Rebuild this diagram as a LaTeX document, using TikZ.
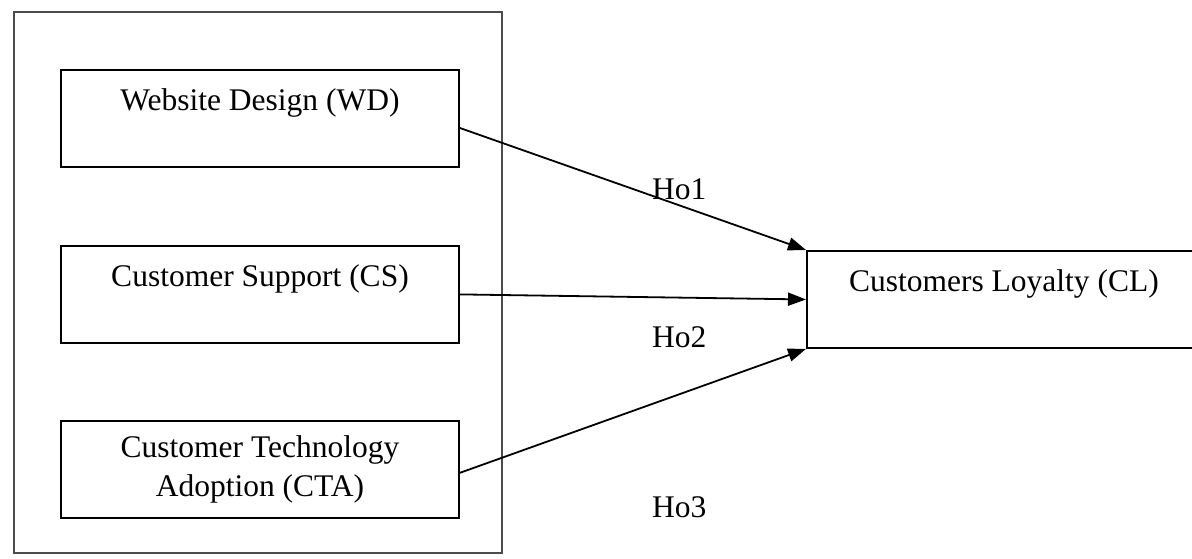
\documentclass[tikz,border=0pt]{standalone}
\usepackage{fontspec}
\setmainfont{Liberation Serif}
\usetikzlibrary{calc,arrows.meta,positioning}

\begin{document}
\begin{tikzpicture}[x=1pt,y=-1pt]

\tikzset{varbox/.style={draw,line width=1.9pt,minimum width=398pt,minimum height=97pt,inner sep=0pt,align=center,font=\fontsize{31.5}{38.5}\selectfont},
hyparrow/.style={line width=1.8pt,-{Triangle[length=18pt,width=13pt]}},
hyplabel/.style={anchor=base west,inner sep=0pt,font=\fontsize{31.5}{38.5}\selectfont}}

\useasboundingbox (0,0) rectangle (1192,558);
\clip (0,0) rectangle (1192,558);

% Frame round the predictors
\node (frame) [draw=black!70,line width=1.3pt,minimum width=488pt,minimum height=541pt,inner sep=0pt] at (258,282.5) {};

% Predictor boxes
\node (wd) [varbox] at (260,118.5) {Website Design (WD)\\~};
\node (cs) [below=77pt of wd,varbox] {Customer Support (CS)\\~};
\node (cta) [below=76pt of cs,varbox] {Customer Technology\\Adoption (CTA)};

% Outcome box
\node (cl) [varbox,minimum width=394pt,anchor=north west] at (806,250) {Customers Loyalty (CL)\\~};

% Hypotheses
\draw[hyparrow] ($(wd.east)+(0,9.5)$) -- (cl.north west);
\draw[hyparrow] (cs.east) -- (cl.west);
\draw[hyparrow] ($(cta.east)+(0,3.5)$) -- (cl.south west);
\node (ho1) [hyplabel] at (652,199) {Ho1};
\node (ho2) [hyplabel] at (652,347) {Ho2};
\node (ho3) [hyplabel] at (652,517) {Ho3};

\end{tikzpicture}
\end{document}
